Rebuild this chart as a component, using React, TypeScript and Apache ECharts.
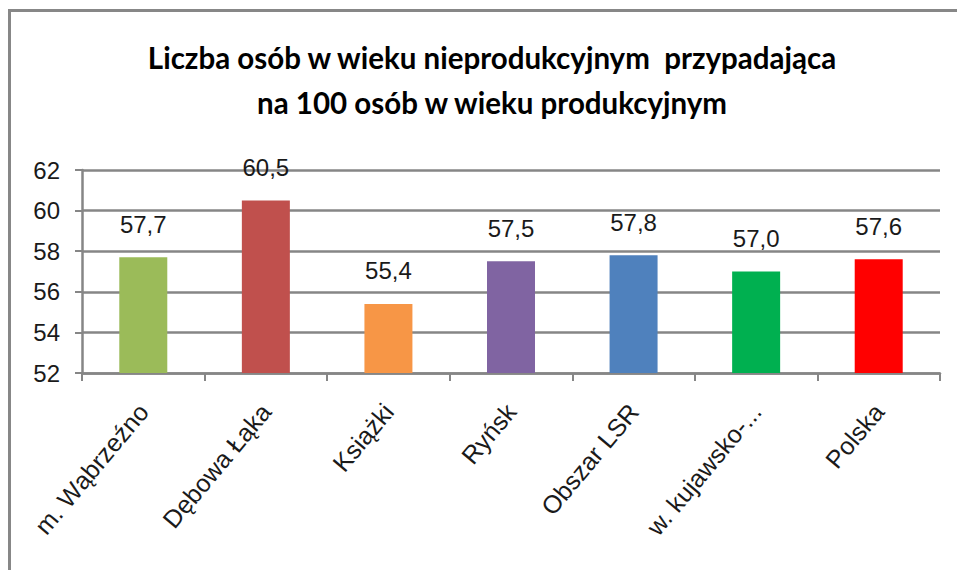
import React, { useEffect, useRef } from "react";
import * as echarts from "echarts";

const titleLines = [
  "Liczba osób w wieku nieprodukcyjnym  przypadająca",
  "na 100 osób w wieku produkcyjnym",
];
const categories = [
  "m. Wąbrzeźno",
  "Dębowa Łąka",
  "Książki",
  "Ryńsk",
  "Obszar LSR",
  "w. kujawsko-...",
  "Polska",
];
const values = [57.7, 60.5, 55.4, 57.5, 57.8, 57.0, 57.6];
const barColors = ["#9BBB59", "#C0504D", "#F79646", "#8064A2", "#4F81BD", "#00B050", "#FF0000"];
const yTicks = [52, 54, 56, 58, 60, 62];

export default function App() {
  const ref = useRef<HTMLDivElement>(null);
  useEffect(() => {
    if (!ref.current) return;
    const chart = echarts.init(ref.current, null, { renderer: "svg" });
    const font = "'Liberation Sans', Arial, sans-serif";
    chart.setOption({
      animation: false,
      backgroundColor: "#ffffff",
      title: {
        text: titleLines.join("\n"),
        left: 487,
        top: 30,
        textAlign: "center",
        textStyle: {
          fontFamily: "Lato, sans-serif",
          fontWeight: "bold",
          fontSize: 29.5,
          lineHeight: 45,
          color: "#000000",
        },
      },
      graphic: [
        { type: "line", shape: { x1: 8, y1: 10.5, x2: 957, y2: 10.5 }, style: { stroke: "#878787", lineWidth: 3 } },
        { type: "line", shape: { x1: 9.5, y1: 9, x2: 9.5, y2: 570 }, style: { stroke: "#878787", lineWidth: 3 } },
      ],
      grid: { left: 82, right: 17, top: 170, bottom: 197, containLabel: false },
      xAxis: {
        type: "category",
        data: categories,
        axisLine: { show: true, lineStyle: { color: "#868686", width: 2.5 } },
        axisTick: { show: true, length: 8, alignWithLabel: false, lineStyle: { color: "#868686", width: 2 } },
        axisLabel: {
          rotate: 50,
          interval: 0,
          margin: 34,
          fontFamily: font,
          fontSize: 25,
          color: "#1a1a1a",
        },
      },
      yAxis: {
        type: "value",
        min: yTicks[0],
        max: yTicks[yTicks.length - 1],
        interval: 2,
        axisLine: { show: true, lineStyle: { color: "#868686", width: 2.5 } },
        axisTick: { show: true, length: 7, inside: false, lineStyle: { color: "#868686", width: 2 } },
        axisLabel: { margin: 22, fontFamily: font, fontSize: 24, color: "#1a1a1a" },
        splitLine: { show: true, lineStyle: { color: "#868686", width: 2.5 } },
      },
      series: [
        {
          type: "bar",
          barWidth: 48,
          data: values.map((v, i) => ({ value: v, itemStyle: { color: barColors[i] } })),
          label: {
            show: true,
            position: "top",
            distance: 21,
            fontFamily: font,
            fontSize: 24,
            color: "#1a1a1a",
            formatter: (p: any) => Number(p.value).toFixed(1).replace(".", ","),
          },
        },
      ],
    });
    return () => chart.dispose();
  }, []);
  return (
    <div
      ref={ref}
      style={{ position: "fixed", left: 0, top: 0, width: 957, height: 570 }}
    />
  );
}
